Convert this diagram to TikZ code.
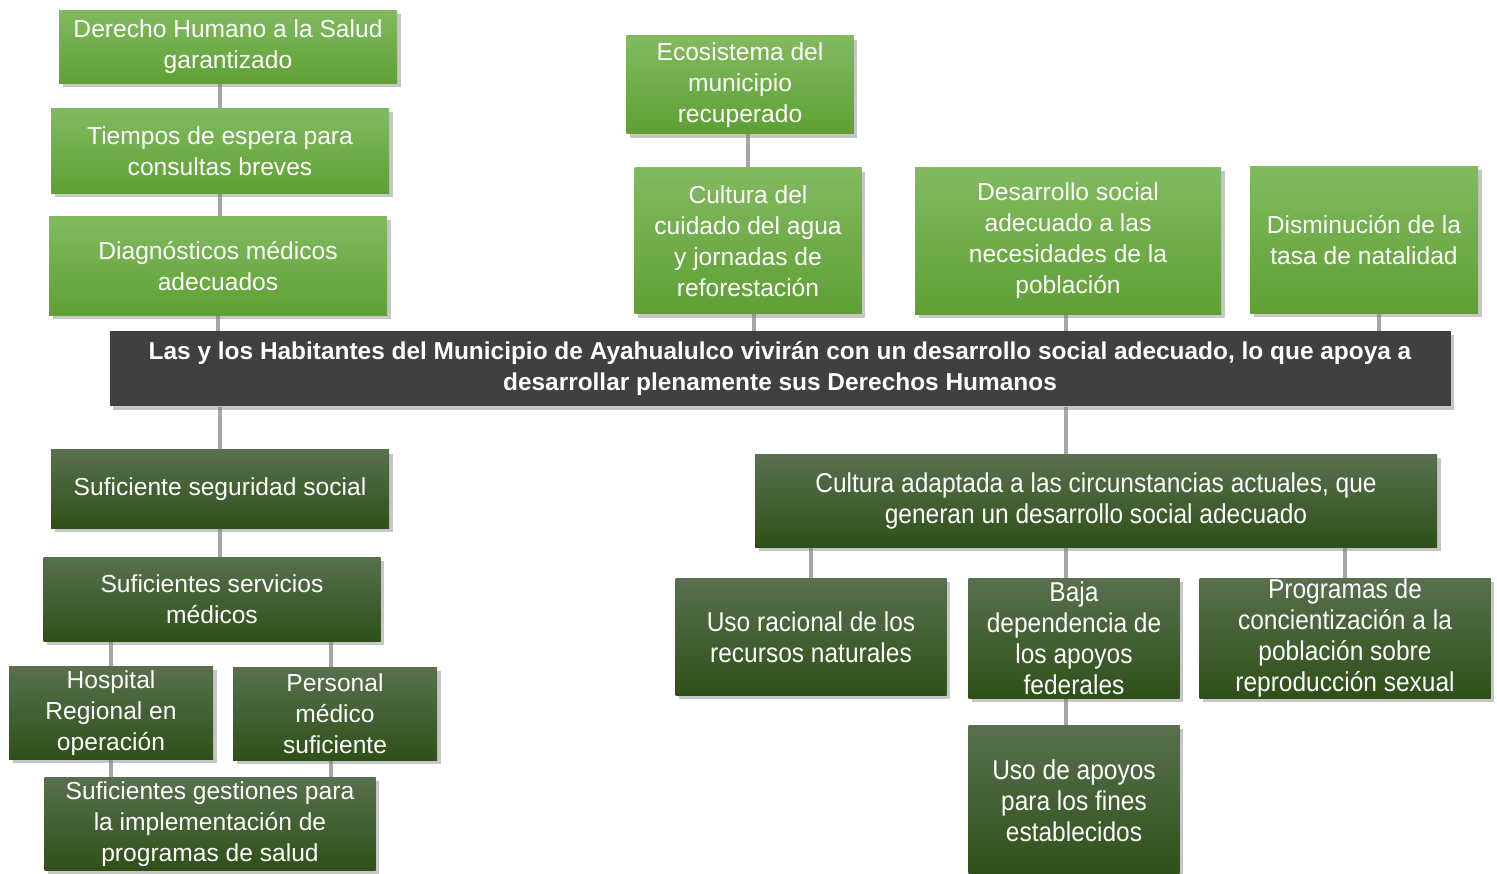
\documentclass[tikz,border=0pt]{standalone}
\usepackage{fontspec}
\setmainfont{Liberation Sans}
\newfontfamily\narrowfont{Liberation Sans}[FakeStretch=0.9]
\usetikzlibrary{shadows, positioning, backgrounds}
\definecolor{leaftop}{RGB}{130,186,96}
\definecolor{leafbot}{RGB}{94,160,52}
\definecolor{rootop}{RGB}{88,112,78}
\definecolor{rootbot}{RGB}{46,80,24}
\definecolor{trunk}{RGB}{64,64,64}
\definecolor{twig}{RGB}{166,166,166}
\tikzset{
    tree box/.style = {inner sep=0pt, align=center, text=white,
        drop shadow={shadow xshift=2pt, shadow yshift=-2pt, opacity=0.45}},
    boxsize/.style 2 args = {minimum width=#1*0.02cm, minimum height=#2*0.02cm},
    fin/.style = {tree box, top color=leaftop, bottom color=leafbot,
        font=\fontsize{14}{17.6}\selectfont},
    medio/.style = {tree box, top color=rootop, bottom color=rootbot,
        font=\fontsize{14}{17.6}\selectfont},
    angosto/.style = {medio, font=\narrowfont\fontsize{15.5}{17.6}\selectfont},
    proposito/.style = {tree box, fill=trunk,
        font=\bfseries\fontsize{13.9}{17.6}\selectfont},
    rama/.style = {draw=twig, line width=2.3pt},
}

\begin{document}
\begin{tikzpicture}[x=0.02cm, y=-0.02cm]
    \useasboundingbox (0,0) rectangle (1497,874);

    \node[fin, boxsize={338}{73}] (derecho) at (228,47) {Derecho Humano a la Salud\\garantizado};
    \node[fin, boxsize={338}{85}] (tiempos) at (220,151) {Tiempos de espera para\\consultas breves};
    \node[fin, boxsize={338}{99}] (diagnos) at (218,266) {Diagnósticos médicos\\adecuados};

    \node[fin, boxsize={227}{98}] (ecosis) at (740,85) {Ecosistema del\\municipio\\recuperado};
    \node[fin, boxsize={227}{146}] (cuidado) at (748,241) {Cultura del\\cuidado del agua\\y jornadas de\\reforestación};
    \node[fin, boxsize={306}{147}] (desarrollo) at (1068,241) {Desarrollo social\\adecuado a las\\necesidades de la\\población};
    \node[fin, boxsize={228}{147}] (natalidad) at (1364,240) {Disminución de la\\tasa de natalidad};

    \node[proposito, boxsize={1341}{75}] (habitantes) at (780,369) {Las y los Habitantes del Municipio de Ayahualulco vivirán con un desarrollo social adecuado, lo que apoya a\\desarrollar plenamente sus Derechos Humanos};

    \node[medio, boxsize={338}{78}] (seguridad) at (220,489) {Suficiente seguridad social};
    \node[medio, boxsize={337}{84}] (servicios) at (212,599) {Suficientes servicios\\médicos};
    \node[medio, boxsize={204}{93}] (hospital) at (111,713) {Hospital\\Regional en\\operación};
    \node[medio, boxsize={204}{93}] (personal) at (335,714) {Personal\\médico\\suficiente};
    \node[medio, boxsize={331}{93}] (gestiones) at (210,824) {Suficientes gestiones para\\la implementación de\\programas de salud};

    \node[angosto, boxsize={682}{93}] (adaptada) at (1096,501) {Cultura adaptada a las circunstancias actuales, que\\generan un desarrollo social adecuado};
    \node[angosto, boxsize={271}{117}] (racional) at (811,637) {Uso racional de los\\recursos naturales};
    \node[angosto, boxsize={211}{120}] (baja) at (1074,638) {Baja\\dependencia de\\los apoyos\\federales};
    \node[angosto, boxsize={291}{120}] (programas) at (1345,638) {Programas de\\concientización a la\\población sobre\\reproducción sexual};
    \node[angosto, boxsize={211}{152}] (apoyos) at (1074,801) {Uso de apoyos\\para los fines\\establecidos};

    \begin{scope}[on background layer]
        \draw[rama] (tiempos.north) -- (tiempos.north |- derecho.south);
        \draw[rama] (tiempos.south) -- (tiempos.south |- diagnos.north);
        \draw[rama] (diagnos.south) -- (diagnos.south |- habitantes.north);
        \draw[rama] (cuidado.north) -- (cuidado.north |- ecosis.south);
        \draw[rama] ([xshift=1.2mm]cuidado.south) -- ([xshift=1.2mm]cuidado.south |- habitantes.north);
        \draw[rama] ([xshift=-0.4mm]desarrollo.south) -- ([xshift=-0.4mm]desarrollo.south |- habitantes.north);
        \draw[rama] ([xshift=3mm]natalidad.south) -- ([xshift=3mm]natalidad.south |- habitantes.north);

        \draw[rama] (seguridad.north) -- (seguridad.north |- habitantes.south);
        \draw[rama] (seguridad.south) -- (seguridad.south |- servicios.north);
        \draw[rama] (hospital.north) -- (hospital.north |- servicios.south);
        \draw[rama] ([xshift=-0.8mm]personal.north) -- ([xshift=-0.8mm]personal.north |- servicios.south);
        \draw[rama] (hospital.south) -- (hospital.south |- gestiones.north);
        \draw[rama] ([xshift=-0.8mm]personal.south) -- ([xshift=-0.8mm]personal.south |- gestiones.north);

        \draw[rama] ([xshift=-1.6mm]baja.north |- habitantes.south) -- ([xshift=-1.6mm]baja.north |- adaptada.north);
        \draw[rama] (racional.north) -- (racional.north |- adaptada.south);
        \draw[rama] ([xshift=-1.6mm]baja.north) -- ([xshift=-1.6mm]baja.north |- adaptada.south);
        \draw[rama] (programas.north) -- (programas.north |- adaptada.south);
        \draw[rama] ([xshift=-1.6mm]baja.south) -- ([xshift=-1.6mm]baja.south |- apoyos.north);
    \end{scope}
\end{tikzpicture}
\end{document}
